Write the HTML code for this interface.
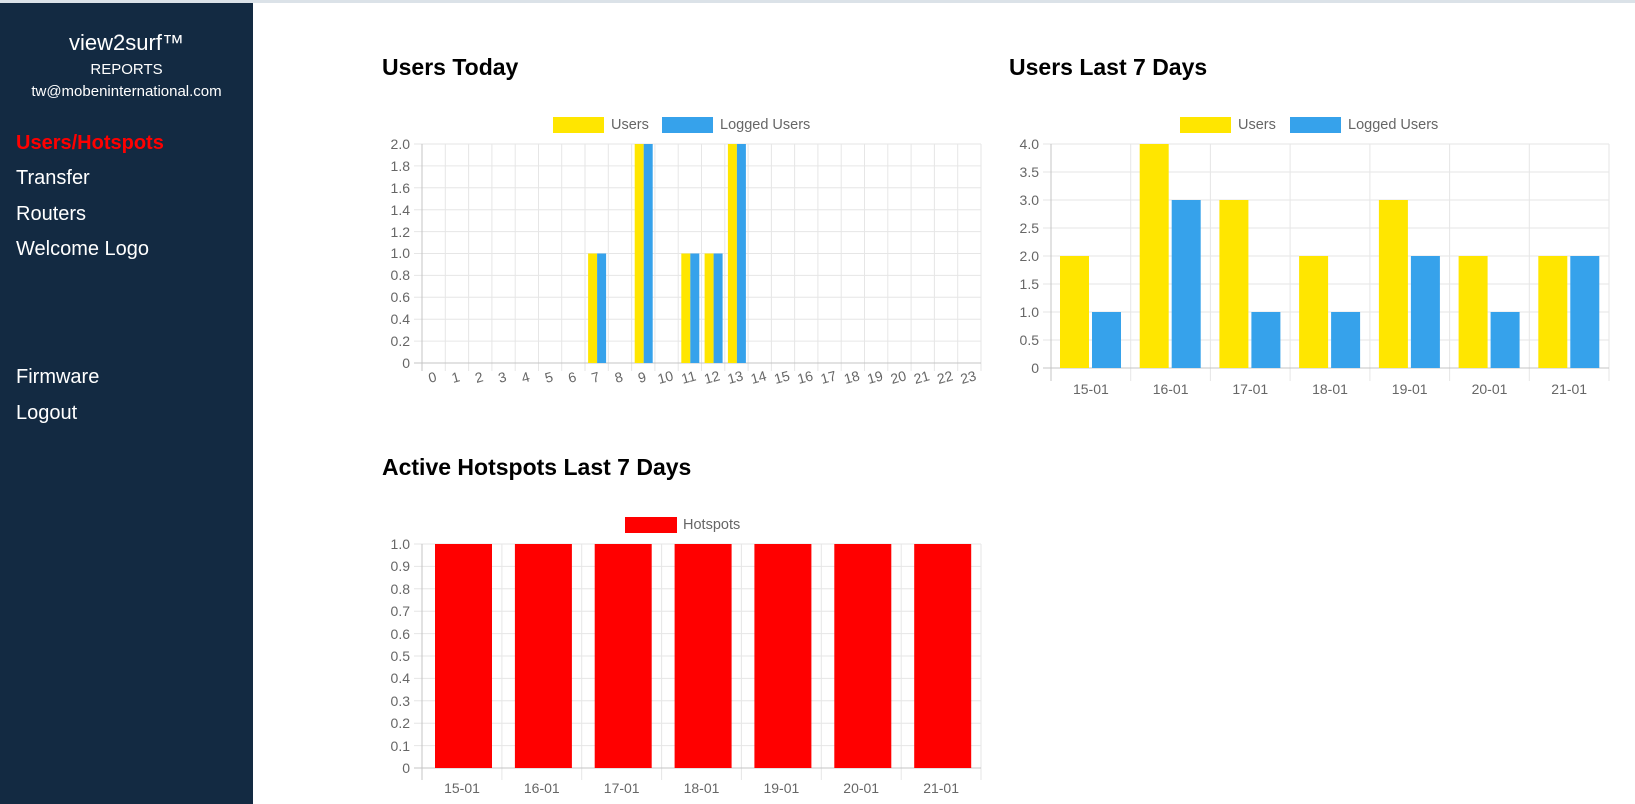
<!DOCTYPE html>
<html><head><meta charset="utf-8"><style>
body{margin:0;width:1635px;height:804px;overflow:hidden;background:#fff;font-family:"Liberation Sans",sans-serif;position:relative}
#top{position:absolute;left:0;top:0;width:1635px;height:3px;background:#dbe2e8}
#side{position:absolute;left:0;top:3px;width:253px;height:801px;background:#132a42;color:#fff}
.c{position:absolute;left:0;width:253px;text-align:center}
.m{position:absolute;left:16px;font-size:20px;color:#fff}
svg{position:absolute;left:0;top:0}
</style></head><body>
<div id="top"></div>
<div id="side">
<div class="c" style="top:27px;font-size:22px">view2surf™</div>
<div class="c" style="top:58px;font-size:15px">REPORTS</div>
<div class="c" style="top:80px;font-size:15px">tw@mobeninternational.com</div>
<div class="m" style="top:129px;color:#ff0000;font-weight:bold">Users/Hotspots</div>
<div class="m" style="top:164px">Transfer</div>
<div class="m" style="top:200px">Routers</div>
<div class="m" style="top:235px">Welcome Logo</div>
<div class="m" style="top:363px">Firmware</div>
<div class="m" style="top:399px">Logout</div>
</div>
<svg width="1635" height="804" font-family="Liberation Sans, sans-serif">
<g font-size="23" font-weight="bold" fill="#000">
<text x="382" y="75">Users Today</text>
<text x="1009" y="75">Users Last 7 Days</text>
<text x="382" y="475">Active Hotspots Last 7 Days</text>
</g>
<!-- Chart 1 -->
<g stroke="#e6e6e6" stroke-width="1">
<line x1="414" x2="981" y1="144" y2="144"/><line x1="414" x2="981" y1="165.9" y2="165.9"/><line x1="414" x2="981" y1="187.8" y2="187.8"/><line x1="414" x2="981" y1="209.7" y2="209.7"/><line x1="414" x2="981" y1="231.6" y2="231.6"/><line x1="414" x2="981" y1="253.5" y2="253.5"/><line x1="414" x2="981" y1="275.4" y2="275.4"/><line x1="414" x2="981" y1="297.3" y2="297.3"/><line x1="414" x2="981" y1="319.2" y2="319.2"/><line x1="414" x2="981" y1="341.1" y2="341.1"/>
<line x1="445.3" x2="445.3" y1="144" y2="371"/><line x1="468.6" x2="468.6" y1="144" y2="371"/><line x1="491.9" x2="491.9" y1="144" y2="371"/><line x1="515.2" x2="515.2" y1="144" y2="371"/><line x1="538.5" x2="538.5" y1="144" y2="371"/><line x1="561.7" x2="561.7" y1="144" y2="371"/><line x1="585" x2="585" y1="144" y2="371"/><line x1="608.3" x2="608.3" y1="144" y2="371"/><line x1="631.6" x2="631.6" y1="144" y2="371"/><line x1="654.9" x2="654.9" y1="144" y2="371"/><line x1="678.2" x2="678.2" y1="144" y2="371"/><line x1="701.5" x2="701.5" y1="144" y2="371"/><line x1="724.8" x2="724.8" y1="144" y2="371"/><line x1="748.1" x2="748.1" y1="144" y2="371"/><line x1="771.4" x2="771.4" y1="144" y2="371"/><line x1="794.6" x2="794.6" y1="144" y2="371"/><line x1="817.9" x2="817.9" y1="144" y2="371"/><line x1="841.2" x2="841.2" y1="144" y2="371"/><line x1="864.5" x2="864.5" y1="144" y2="371"/><line x1="887.8" x2="887.8" y1="144" y2="371"/><line x1="911.1" x2="911.1" y1="144" y2="371"/><line x1="934.4" x2="934.4" y1="144" y2="371"/><line x1="957.7" x2="957.7" y1="144" y2="371"/><line x1="981" x2="981" y1="144" y2="371"/>
</g>
<g stroke="#c4c4c4"><line x1="422" x2="422" y1="144" y2="371"/><line x1="414" x2="981" y1="363" y2="363"/></g>
<g fill="#ffe600"><rect x="588.1" y="253.5" width="9" height="109.5"/><rect x="634.7" y="144" width="9" height="219"/><rect x="681.3" y="253.5" width="9" height="109.5"/><rect x="704.6" y="253.5" width="9" height="109.5"/><rect x="727.9" y="144" width="9" height="219"/></g>
<g fill="#36a2eb"><rect x="597.1" y="253.5" width="9" height="109.5"/><rect x="643.7" y="144" width="9" height="219"/><rect x="690.3" y="253.5" width="9" height="109.5"/><rect x="713.6" y="253.5" width="9" height="109.5"/><rect x="736.9" y="144" width="9" height="219"/></g>
<g font-size="14" fill="#666" text-anchor="end">
<text x="410" y="149">2.0</text><text x="410" y="171">1.8</text><text x="410" y="193">1.6</text><text x="410" y="215">1.4</text><text x="410" y="237">1.2</text><text x="410" y="258">1.0</text><text x="410" y="280">0.8</text><text x="410" y="302">0.6</text><text x="410" y="324">0.4</text><text x="410" y="346">0.2</text><text x="410" y="368">0</text>
</g>
<g font-size="14" fill="#666" text-anchor="middle">
<text transform="translate(433.6,382) rotate(-15)">0</text><text transform="translate(456.9,382) rotate(-15)">1</text><text transform="translate(480.2,382) rotate(-15)">2</text><text transform="translate(503.5,382) rotate(-15)">3</text><text transform="translate(526.8,382) rotate(-15)">4</text><text transform="translate(550.1,382) rotate(-15)">5</text><text transform="translate(573.4,382) rotate(-15)">6</text><text transform="translate(596.7,382) rotate(-15)">7</text><text transform="translate(620,382) rotate(-15)">8</text><text transform="translate(643.3,382) rotate(-15)">9</text><text transform="translate(666.6,382) rotate(-15)">10</text><text transform="translate(689.9,382) rotate(-15)">11</text><text transform="translate(713.2,382) rotate(-15)">12</text><text transform="translate(736.5,382) rotate(-15)">13</text><text transform="translate(759.8,382) rotate(-15)">14</text><text transform="translate(783.1,382) rotate(-15)">15</text><text transform="translate(806.4,382) rotate(-15)">16</text><text transform="translate(829.7,382) rotate(-15)">17</text><text transform="translate(853,382) rotate(-15)">18</text><text transform="translate(876.3,382) rotate(-15)">19</text><text transform="translate(899.6,382) rotate(-15)">20</text><text transform="translate(922.9,382) rotate(-15)">21</text><text transform="translate(946.2,382) rotate(-15)">22</text><text transform="translate(969.5,382) rotate(-15)">23</text>
</g>
<rect x="553" y="117" width="51" height="16" fill="#ffe600"/><text x="611" y="129" font-size="14.5" fill="#666">Users</text>
<rect x="662" y="117" width="51" height="16" fill="#36a2eb"/><text x="720" y="129" font-size="14.5" fill="#666">Logged Users</text>
<!-- Chart 2 -->
<g stroke="#e6e6e6">
<line x1="1043" x2="1609" y1="144" y2="144"/><line x1="1043" x2="1609" y1="172" y2="172"/><line x1="1043" x2="1609" y1="200" y2="200"/><line x1="1043" x2="1609" y1="228" y2="228"/><line x1="1043" x2="1609" y1="256" y2="256"/><line x1="1043" x2="1609" y1="284" y2="284"/><line x1="1043" x2="1609" y1="312" y2="312"/><line x1="1043" x2="1609" y1="340" y2="340"/>
<line x1="1130.7" x2="1130.7" y1="144" y2="381"/><line x1="1210.4" x2="1210.4" y1="144" y2="381"/><line x1="1290.1" x2="1290.1" y1="144" y2="381"/><line x1="1369.9" x2="1369.9" y1="144" y2="381"/><line x1="1449.6" x2="1449.6" y1="144" y2="381"/><line x1="1529.3" x2="1529.3" y1="144" y2="381"/><line x1="1609" x2="1609" y1="144" y2="381"/>
</g>
<g stroke="#c4c4c4"><line x1="1051" x2="1051" y1="144" y2="381"/><line x1="1043" x2="1609" y1="368" y2="368"/></g>
<g fill="#ffe600"><rect x="1060" y="256" width="29" height="112"/><rect x="1139.7" y="144" width="29" height="224"/><rect x="1219.4" y="200" width="29" height="168"/><rect x="1299.1" y="256" width="29" height="112"/><rect x="1378.9" y="200" width="29" height="168"/><rect x="1458.6" y="256" width="29" height="112"/><rect x="1538.3" y="256" width="29" height="112"/></g>
<g fill="#36a2eb"><rect x="1092" y="312" width="29" height="56"/><rect x="1171.7" y="200" width="29" height="168"/><rect x="1251.4" y="312" width="29" height="56"/><rect x="1331.1" y="312" width="29" height="56"/><rect x="1410.9" y="256" width="29" height="112"/><rect x="1490.6" y="312" width="29" height="56"/><rect x="1570.3" y="256" width="29" height="112"/></g>
<g font-size="14" fill="#666" text-anchor="end">
<text x="1039" y="149">4.0</text><text x="1039" y="177">3.5</text><text x="1039" y="205">3.0</text><text x="1039" y="233">2.5</text><text x="1039" y="261">2.0</text><text x="1039" y="289">1.5</text><text x="1039" y="317">1.0</text><text x="1039" y="345">0.5</text><text x="1039" y="373">0</text>
</g>
<g font-size="14" fill="#666" text-anchor="middle">
<text x="1090.9" y="394">15-01</text><text x="1170.6" y="394">16-01</text><text x="1250.3" y="394">17-01</text><text x="1330" y="394">18-01</text><text x="1409.7" y="394">19-01</text><text x="1489.5" y="394">20-01</text><text x="1569.2" y="394">21-01</text>
</g>
<rect x="1180" y="117" width="51" height="16" fill="#ffe600"/><text x="1238" y="129" font-size="14.5" fill="#666">Users</text>
<rect x="1290" y="117" width="51" height="16" fill="#36a2eb"/><text x="1348" y="129" font-size="14.5" fill="#666">Logged Users</text>
<!-- Chart 3 -->
<g stroke="#e6e6e6">
<line x1="414" x2="981" y1="544" y2="544"/><line x1="414" x2="981" y1="566.4" y2="566.4"/><line x1="414" x2="981" y1="588.8" y2="588.8"/><line x1="414" x2="981" y1="611.2" y2="611.2"/><line x1="414" x2="981" y1="633.6" y2="633.6"/><line x1="414" x2="981" y1="656" y2="656"/><line x1="414" x2="981" y1="678.4" y2="678.4"/><line x1="414" x2="981" y1="700.8" y2="700.8"/><line x1="414" x2="981" y1="723.2" y2="723.2"/><line x1="414" x2="981" y1="745.6" y2="745.6"/>
<line x1="501.9" x2="501.9" y1="544" y2="780"/><line x1="581.7" x2="581.7" y1="544" y2="780"/><line x1="661.6" x2="661.6" y1="544" y2="780"/><line x1="741.4" x2="741.4" y1="544" y2="780"/><line x1="821.3" x2="821.3" y1="544" y2="780"/><line x1="901.2" x2="901.2" y1="544" y2="780"/><line x1="981" x2="981" y1="544" y2="780"/>
</g>
<g stroke="#c4c4c4"><line x1="422" x2="422" y1="544" y2="780"/><line x1="414" x2="981" y1="768" y2="768"/></g>
<g fill="#ff0000"><rect x="435" y="544" width="57" height="224"/><rect x="514.9" y="544" width="57" height="224"/><rect x="594.7" y="544" width="57" height="224"/><rect x="674.6" y="544" width="57" height="224"/><rect x="754.4" y="544" width="57" height="224"/><rect x="834.3" y="544" width="57" height="224"/><rect x="914.2" y="544" width="57" height="224"/></g>
<g font-size="14" fill="#666" text-anchor="end">
<text x="410" y="549">1.0</text><text x="410" y="571">0.9</text><text x="410" y="594">0.8</text><text x="410" y="616">0.7</text><text x="410" y="639">0.6</text><text x="410" y="661">0.5</text><text x="410" y="683">0.4</text><text x="410" y="706">0.3</text><text x="410" y="728">0.2</text><text x="410" y="751">0.1</text><text x="410" y="773">0</text>
</g>
<g font-size="14" fill="#666" text-anchor="middle">
<text x="462" y="793">15-01</text><text x="541.8" y="793">16-01</text><text x="621.7" y="793">17-01</text><text x="701.5" y="793">18-01</text><text x="781.4" y="793">19-01</text><text x="861.2" y="793">20-01</text><text x="941.1" y="793">21-01</text>
</g>
<rect x="625" y="517" width="52" height="16" fill="#ff0000"/><text x="683" y="529" font-size="14.5" fill="#666">Hotspots</text>
</svg>
</body></html>
